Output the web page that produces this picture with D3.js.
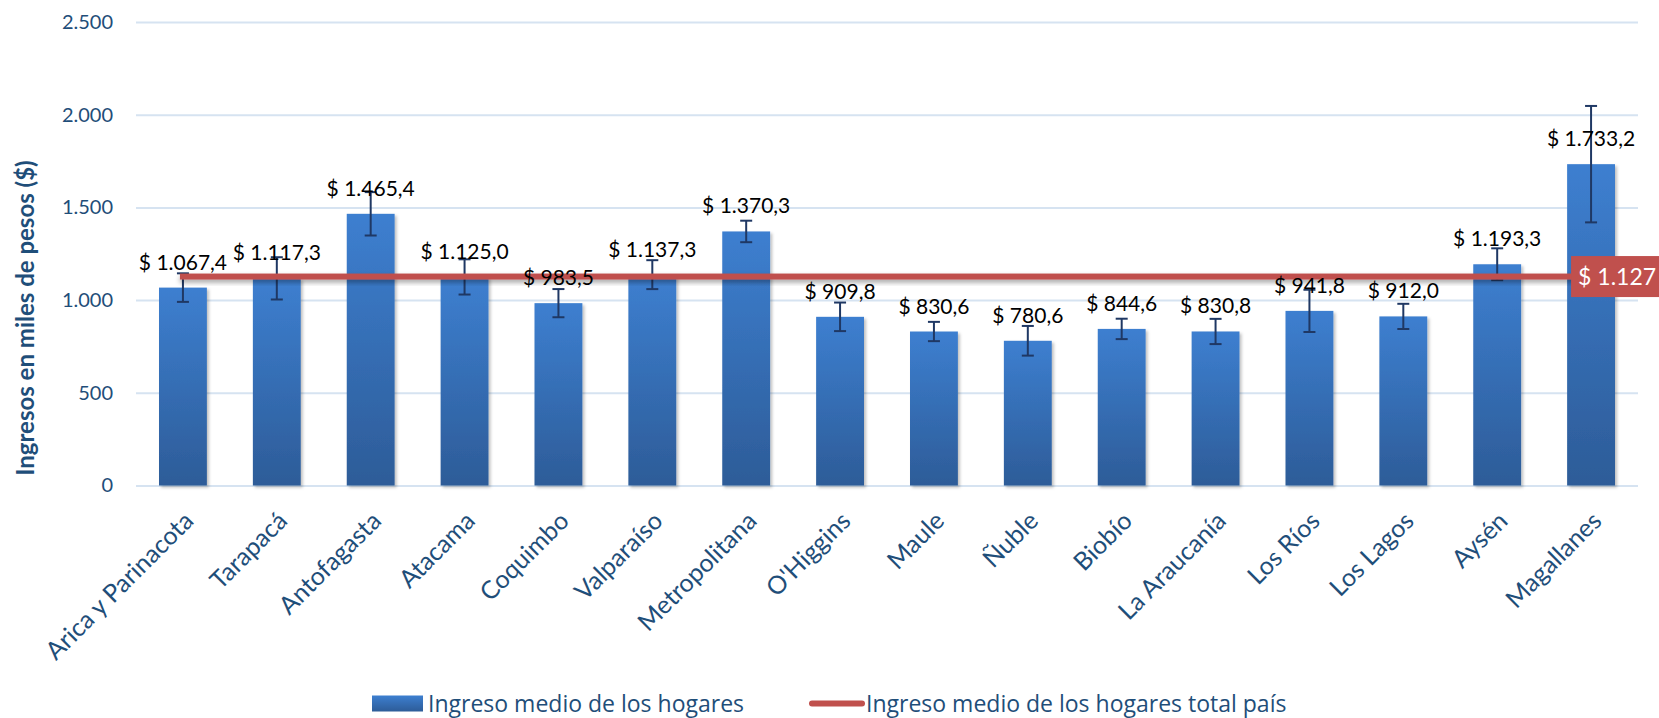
<!DOCTYPE html>
<html>
<head>
<meta charset="utf-8">
<script src="https://cdn.jsdelivr.net/npm/d3@7"></script>
<style>
  body { margin: 0; background: #fff; }
  svg { display: block; font-family: Lato, "Open Sans", sans-serif; }
  .tick-text { fill: #1F4E79; font-size: 20px; font-family: Lato, sans-serif; }
  .x-text { fill: #1F4E79; font-size: 25px; font-family: Lato, sans-serif; }
  .bar-label { fill: #000; font-size: 21px; }
</style>
</head>
<body>
<div id="chart"></div>
<script>
// data
var regions = ["Arica y Parinacota", "Tarapacá", "Antofagasta", "Atacama", "Coquimbo",
    "Valparaíso", "Metropolitana", "O'Higgins", "Maule", "Ñuble", "Biobío",
    "La Araucanía", "Los Ríos", "Los Lagos", "Aysén", "Magallanes"];
var ingreso = [1067.4, 1117.3, 1465.4, 1125.0, 983.5, 1137.3, 1370.3, 909.8,
    830.6, 780.6, 844.6, 830.8, 941.8, 912.0, 1193.3, 1733.2];
var errorMargin = [77, 114, 117, 95, 76, 78, 58, 77, 52, 80, 55, 68, 114, 68, 86, 314];
var totalPais = 1127;
var yTicks = [0, 500, 1000, 1500, 2000, 2500];
var seriesNames = ["Ingreso medio de los hogares", "Ingreso medio de los hogares total país"];

var svgWidth = 1659, svgHeight = 718;
var margin = {top: 22, right: 21, bottom: 232.5, left: 136},
    width = svgWidth - margin.left - margin.right,
    height = svgHeight - margin.top - margin.bottom;

var fmt = function(v) {
    var s = v.toFixed(1).split(".");
    return "$ " + s[0].replace(/\B(?=(\d{3})+(?!\d))/g, ".") + "," + s[1];
};
var fmtTick = function(v) {
    return String(v).replace(/\B(?=(\d{3})+(?!\d))/g, ".");
};

var svg = d3.select("#chart").append("svg")
    .attr("width", svgWidth)
    .attr("height", svgHeight);

var defs = svg.append("defs");
var grad = defs.append("linearGradient")
    .attr("id", "barGrad")
    .attr("x1", 0).attr("y1", 0).attr("x2", 0).attr("y2", 1);
grad.append("stop").attr("offset", "0%").attr("stop-color", "#3D7FD0");
grad.append("stop").attr("offset", "100%").attr("stop-color", "#2D5C98");

var shadow = defs.append("filter").attr("id", "shadow")
    .attr("x", "-20%").attr("y", "-20%").attr("width", "140%").attr("height", "140%");
shadow.append("feDropShadow")
    .attr("dx", 2).attr("dy", 2).attr("stdDeviation", 1.8)
    .attr("flood-color", "#000").attr("flood-opacity", 0.25);

var lineShadow = defs.append("filter").attr("id", "lineShadow")
    .attr("x", "-5%").attr("y", "-100%").attr("width", "110%").attr("height", "300%");
lineShadow.append("feDropShadow")
    .attr("dx", 0).attr("dy", 3).attr("stdDeviation", 2.5)
    .attr("flood-color", "#000").attr("flood-opacity", 0.35);

var g = svg.append("g")
    .attr("transform", "translate(" + margin.left + "," + margin.top + ")");

// scales
var x = d3.scaleBand()
    .domain(regions)
    .range([0, width])
    .paddingInner(0.49)
    .paddingOuter(0.245);

var y = d3.scaleLinear()
    .domain([0, 2500])
    .range([height, 0]);

// gridlines
var grid = g.append("g")
    .call(d3.axisLeft(y).tickValues(yTicks).tickSize(-width).tickFormat(""));
grid.select(".domain").remove();
grid.selectAll("line").attr("stroke", "#D6E3F1").attr("stroke-width", 2);

// y axis labels
var yAxis = g.append("g")
    .call(d3.axisLeft(y).tickValues(yTicks).tickSize(0).tickPadding(23).tickFormat(fmtTick))
    .attr("font-family", null).attr("font-size", null);
yAxis.select(".domain").remove();
yAxis.selectAll("text")
    .attr("class", "tick-text")
    .attr("fill", null);

// y axis title
svg.append("text")
    .attr("transform", "translate(26,318) rotate(-90)")
    .attr("text-anchor", "middle")
    .attr("dy", "0.35em")
    .style("font-size", "24px")
    .style("font-weight", "bold")
    .style("fill", "#1F4E79")
    .text("Ingresos en miles de pesos ($)");

// x axis labels
var xAxis = g.append("g")
    .attr("transform", "translate(0," + height + ")")
    .call(d3.axisBottom(x).tickSize(0).tickPadding(0))
    .attr("font-family", null).attr("font-size", null);
xAxis.select(".domain").remove();
xAxis.selectAll("text")
    .attr("class", "x-text")
    .attr("fill", null)
    .attr("y", 0).attr("dy", 0)
    .style("text-anchor", "end")
    .attr("transform", "translate(12,37) rotate(-45)");

// bars
g.selectAll(".bar")
    .data(ingreso)
    .enter().append("rect")
    .attr("class", "bar")
    .attr("x", function(d, i) { return x(regions[i]); })
    .attr("width", x.bandwidth())
    .attr("y", function(d) { return y(d); })
    .attr("height", function(d) { return height - y(d); })
    .attr("fill", "url(#barGrad)")
    .attr("filter", "url(#shadow)");

// error bars
var err = g.append("g").attr("stroke", "#1F3864").attr("stroke-width", 2);
ingreso.forEach(function(d, i) {
    var cx = x(regions[i]) + x.bandwidth() / 2;
    var lo = y(d - errorMargin[i]), hi = y(d + errorMargin[i]);
    err.append("line").attr("x1", cx).attr("x2", cx).attr("y1", lo).attr("y2", hi);
    err.append("line").attr("x1", cx - 6).attr("x2", cx + 6).attr("y1", lo).attr("y2", lo);
    err.append("line").attr("x1", cx - 6).attr("x2", cx + 6).attr("y1", hi).attr("y2", hi);
});

// national average line (drawn as a thin rect so the shadow filter has a real box)
var firstX = x(regions[0]) + x.bandwidth() / 2,
    lastX = x(regions[regions.length - 1]) + x.bandwidth() / 2;
g.append("rect")
    .attr("x", firstX - 3).attr("width", lastX - firstX + 3)
    .attr("y", y(totalPais) - 3).attr("height", 6)
    .attr("fill", "#C0504D")
    .attr("filter", "url(#lineShadow)");

// data labels
g.selectAll(".bar-label")
    .data(ingreso)
    .enter().append("text")
    .attr("class", "bar-label")
    .attr("text-anchor", "middle")
    .attr("x", function(d, i) { return x(regions[i]) + x.bandwidth() / 2; })
    .attr("y", function(d) { return y(d) - 18; })
    .text(function(d) { return fmt(d); });

// label for national average
var avgLabel = g.append("g")
    .attr("transform", "translate(" + (lastX - 20) + "," + y(totalPais) + ")");
avgLabel.append("rect")
    .attr("x", 0).attr("y", -20.5)
    .attr("width", 130).attr("height", 41)
    .attr("fill", "#C0504D");
avgLabel.append("text")
    .attr("x", 7).attr("y", 0).attr("dy", "0.36em")
    .style("fill", "#fff").style("font-size", "23px")
    .text("$ " + fmtTick(totalPais));

// legend
var legend = svg.append("g").attr("transform", "translate(0,703.5)");
legend.append("rect")
    .attr("x", 372).attr("y", -8).attr("width", 51).attr("height", 16)
    .attr("fill", "url(#barGrad)");
legend.append("text")
    .attr("x", 428).attr("dy", "0.35em")
    .style("fill", "#1F4E79").style("font-size", "23px")
    .style("font-family", "'Open Sans', sans-serif")
    .text(seriesNames[0]);
legend.append("line")
    .attr("x1", 812).attr("x2", 862)
    .attr("stroke", "#C0504D").attr("stroke-width", 6)
    .attr("stroke-linecap", "round");
legend.append("text")
    .attr("x", 866).attr("dy", "0.35em")
    .style("fill", "#1F4E79").style("font-size", "23px")
    .style("font-family", "'Open Sans', sans-serif")
    .text(seriesNames[1]);
</script>
</body>
</html>
